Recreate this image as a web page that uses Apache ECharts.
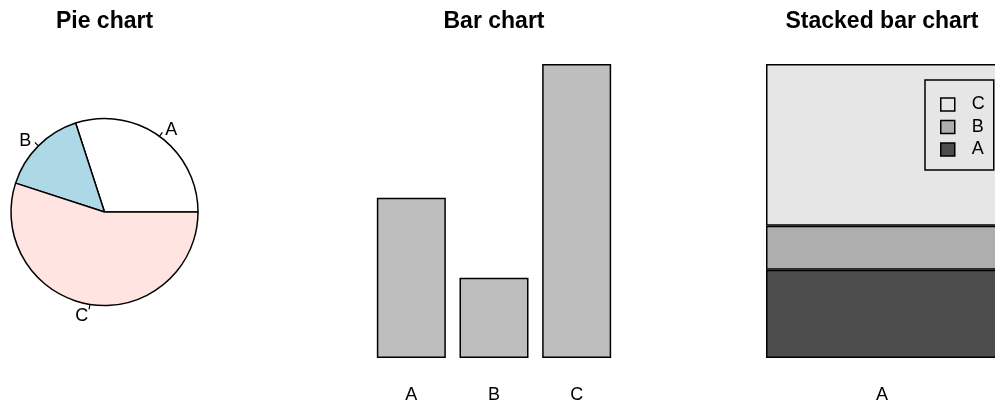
<!DOCTYPE html>
<html>
<head>
<meta charset="utf-8">
<script src="https://cdn.jsdelivr.net/npm/echarts@6/dist/echarts.min.js"></script>
<style>
  html, body { margin: 0; padding: 0; background: #fff; }
  #chart { width: 995px; height: 407px; }
</style>
</head>
<body>
<div id="chart"></div>
<script>
// data
var categories = ['A', 'B', 'C'];
var values = [30, 15, 55];
var pieColors = ['#FFFFFF', '#ADD8E6', '#FFE4E1'];
var stackColors = ['#4D4D4D', '#AEAEAE', '#E6E6E6'];
var stackCategory = ['A'];
var titles = ['Pie chart', 'Bar chart', 'Stacked bar chart'];

var font = 'Liberation Sans, Arial, sans-serif';
var myChart = echarts.init(document.getElementById('chart'));

var pieData = categories.map(function (c, i) {
  return { name: c, value: values[i], itemStyle: { color: pieColors[i] } };
});

var stackSeries = categories.map(function (c, i) {
  return {
    name: c,
    type: 'bar',
    stack: 'total',
    xAxisIndex: 1,
    yAxisIndex: 1,
    barWidth: 232,
    clip: false,
    data: [values[i]],
    itemStyle: { color: stackColors[i], borderColor: '#000', borderWidth: 1.5 }
  };
});

var titleCenters = [104.5, 494, 882];

var option = {
  animation: false,
  backgroundColor: '#fff',
  title: titles.map(function (t, i) {
    return {
      text: t,
      left: titleCenters[i],
      top: 10,
      padding: 0,
      textAlign: 'center',
      textStyle: { fontFamily: font, fontSize: 23, fontWeight: 'bold', color: '#000' }
    };
  }),
  legend: {
    data: ['C', 'B', 'A'],
    orient: 'vertical',
    left: 925,
    top: 80,
    padding: [15.5, 9, 11.5, 15],
    itemWidth: 14,
    itemHeight: 13,
    itemGap: 4.5,
    icon: 'rect',
    borderColor: '#000',
    borderWidth: 1.5,
    textStyle: { fontFamily: font, fontSize: 18, color: '#000', padding: [0, 0, 0, 12] },
    itemStyle: { borderColor: '#000', borderWidth: 1.5 }
  },
  grid: [
    { left: 370, width: 248, top: 64, height: 294 },
    // single stacked bar runs past the right edge of the picture
    { left: 769, right: 0, top: 64, height: 294 }
  ],
  xAxis: [
    {
      gridIndex: 0,
      type: 'category',
      data: categories,
      axisLine: { show: false },
      axisTick: { show: false },
      axisLabel: { margin: 28, fontFamily: font, fontSize: 18, color: '#000' }
    },
    {
      gridIndex: 1,
      type: 'category',
      data: stackCategory,
      axisLine: { show: false },
      axisTick: { show: false },
      axisLabel: { margin: 28, fontFamily: font, fontSize: 18, color: '#000' }
    }
  ],
  yAxis: [
    { gridIndex: 0, type: 'value', min: 0, max: 55, show: false },
    { gridIndex: 1, type: 'value', min: 0, max: 100, show: false }
  ],
  series: [
    {
      type: 'pie',
      center: [104.5, 212],
      radius: 93.5,
      startAngle: 0,
      clockwise: false,
      avoidLabelOverlap: false,
      data: pieData,
      itemStyle: { borderColor: '#000', borderWidth: 1.5 },
      label: {
        show: true,
        position: 'outside',
        fontFamily: font,
        fontSize: 18,
        color: '#000',
        distanceToLabelLine: 0
      },
      labelLine: { show: true, length: 5, length2: 0, lineStyle: { color: '#000', width: 1.2 } },
      // push the text a bit further out along the tick, keep the tick short
      labelLayout: function (p) {
        var pts = p.labelLinePoints;
        if (!pts || pts.length < 2) return {};
        var a = pts[0], b = pts[pts.length - 1];
        var vx = b[0] - a[0], vy = b[1] - a[1];
        var len = Math.sqrt(vx * vx + vy * vy) || 1;
        return { dx: vx / len * 5, dy: vy / len * 5 + 2, labelLinePoints: pts };
      },
      emphasis: { disabled: true }
    },
    {
      type: 'bar',
      xAxisIndex: 0,
      yAxisIndex: 0,
      barWidth: 69,
      data: values,
      itemStyle: { color: '#BEBEBE', borderColor: '#000', borderWidth: 1.5 }
    }
  ].concat(stackSeries)
};

myChart.setOption(option);
window.onresize = myChart.resize;
</script>
</body>
</html>
